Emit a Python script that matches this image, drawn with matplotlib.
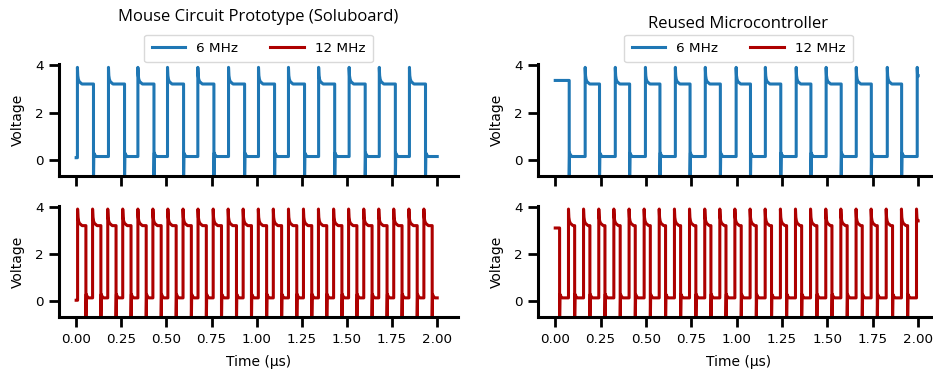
import numpy as np
import matplotlib
matplotlib.use('Agg')
import matplotlib.pyplot as plt

# edge times (µs)
soluboard_6_rises = [0.007, 0.179, 0.342, 0.506, 0.674, 0.844, 1.010, 1.176, 1.343, 1.512, 1.679, 1.846]
soluboard_6_falls = [0.096, 0.268, 0.431, 0.595, 0.763, 0.933, 1.099, 1.265, 1.432, 1.601, 1.768, 1.935]

soluboard_12_rises = [0.008, 0.091, 0.175, 0.258, 0.342, 0.425, 0.508, 0.592, 0.675, 0.759, 0.842, 0.925,
                      1.009, 1.092, 1.176, 1.259, 1.342, 1.426, 1.509, 1.593, 1.676, 1.759, 1.843, 1.926]
soluboard_12_falls = [0.054, 0.137, 0.221, 0.304, 0.388, 0.471, 0.554, 0.638, 0.721, 0.805, 0.888, 0.971,
                      1.055, 1.138, 1.222, 1.305, 1.388, 1.472, 1.555, 1.639, 1.722, 1.805, 1.889, 1.972]

reused_6_rises = [0.165, 0.331, 0.497, 0.662, 0.827, 0.997, 1.158, 1.328, 1.493, 1.659, 1.830, 1.995]
reused_6_falls = [0.077, 0.244, 0.410, 0.577, 0.743, 0.910, 1.076, 1.243, 1.409, 1.576, 1.742, 1.909]

reused_12_rises = [0.073, 0.156, 0.240, 0.323, 0.407, 0.490, 0.573, 0.657, 0.740, 0.824, 0.907, 0.990,
                   1.074, 1.157, 1.241, 1.324, 1.407, 1.491, 1.574, 1.658, 1.741, 1.824, 1.908, 1.991]
reused_12_falls = [0.024, 0.107, 0.191, 0.274, 0.358, 0.441, 0.524, 0.608, 0.691, 0.775, 0.858, 0.941,
                   1.025, 1.108, 1.192, 1.275, 1.358, 1.442, 1.525, 1.609, 1.692, 1.775, 1.859, 1.942]

# start voltage of each trace
start_volts = {'sol6': 0.10, 'sol12': 0.05, 'reu6': 3.35, 'reu12': 3.10}

# ringing after the edges (offset µs, volts)
rise_dt = [0.0, 0.002, 0.005, 0.010, 0.025]
rise_v = [3.90, 3.55, 3.40, 3.30, 3.20]
fall_dt = [0.0, 0.002, 0.006, 0.015]
fall_v = [-0.90, 0.30, 0.22, 0.15]
t_end = 2.0

titles = ['Mouse Circuit Prototype (Soluboard)', 'Reused Microcontroller']
labels = ['6 MHz', '12 MHz']
colors = ['#1f77b4', '#ad0000']


def build_trace(rises, falls, v0):
    edges = sorted([(t, 'r') for t in rises] + [(t, 'f') for t in falls])
    ts, vs = [0.0], [v0]
    cur = v0
    for i, (t, kind) in enumerate(edges):
        nxt = edges[i + 1][0] if i + 1 < len(edges) else t_end
        ts.append(t)
        vs.append(cur)
        dts, vals = (rise_dt, rise_v) if kind == 'r' else (fall_dt, fall_v)
        for dt, v in zip(dts, vals):
            if t + dt < nxt or dt == 0:
                ts.append(t + dt)
                vs.append(v)
                cur = v
    ts.append(t_end)
    vs.append(cur)
    return np.array(ts), np.array(vs)


traces = [
    [build_trace(soluboard_6_rises, soluboard_6_falls, start_volts['sol6']),
     build_trace(reused_6_rises, reused_6_falls, start_volts['reu6'])],
    [build_trace(soluboard_12_rises, soluboard_12_falls, start_volts['sol12']),
     build_trace(reused_12_rises, reused_12_falls, start_volts['reu12'])],
]

plt.rcParams['font.family'] = 'DejaVu Sans'
fig = plt.figure(figsize=(9.33, 3.75), dpi=100)

W, H = 933, 375
col_x = [(59, 399), (538, 401)]
row_y = [(63.8, 176), (205.5, 317.3)]

axes = [[None, None], [None, None]]
for r in range(2):
    for c in range(2):
        x0, w = col_x[c]
        top, bot = row_y[r]
        ax = fig.add_axes([x0 / W, 1 - bot / H, w / W, (bot - top) / H])
        axes[r][c] = ax
        t, v = traces[r][c]
        ax.plot(t, v, color=colors[r], lw=2.2, label=labels[r])
        ax.set_xlim(-0.095, 2.115)
        ax.set_ylim(-0.67, 4.05)
        ax.set_yticks([0, 2, 4])
        ax.set_xticks(np.arange(0, 2.01, 0.25))
        ax.spines['top'].set_visible(False)
        ax.spines['right'].set_visible(False)
        for s in ['left', 'bottom']:
            ax.spines[s].set_linewidth(2.2)
        ax.tick_params(width=2.0, length=7, pad=4, labelsize=9.7)
        ax.set_ylabel('Voltage', fontsize=10, labelpad=7)
        if r == 0:
            ax.tick_params(labelbottom=False)
        else:
            ax.set_xticklabels([f'{x:.2f}' for x in np.arange(0, 2.01, 0.25)])
            ax.set_xlabel('Time (µs)', fontsize=10, labelpad=7)

for c in range(2):
    ax = axes[0][c]
    h1, = axes[0][c].get_lines()
    h2, = axes[1][c].get_lines()
    ax.legend([h1, h2], labels, loc='lower center', bbox_to_anchor=(0.5, 1.0),
              ncol=2, fontsize=9.7, frameon=True, borderaxespad=0.1, borderpad=0.55,
              columnspacing=2.4, handlelength=2.5, edgecolor='#d0d0d0')

axes[0][0].text(0.5, 1.38, titles[0], transform=axes[0][0].transAxes, ha='center',
                va='baseline', fontsize=12, family='Open Sans')
axes[0][1].text(0.5, 1.32, titles[1], transform=axes[0][1].transAxes, ha='center',
                va='baseline', fontsize=12, family='Open Sans')

plt.savefig('out.png', dpi=100)
